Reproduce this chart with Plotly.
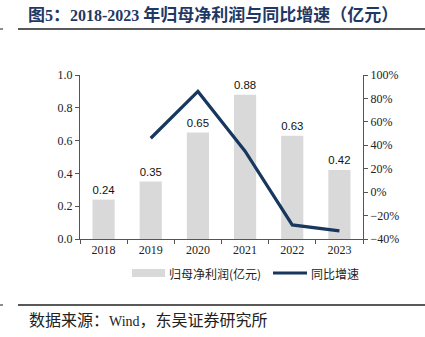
import plotly.graph_objects as go

# Net profit attributable to parent (100 million CNY) and YoY growth
years = ["2018", "2019", "2020", "2021", "2022", "2023"]
net_profit = [0.24, 0.35, 0.65, 0.88, 0.63, 0.42]
growth_years = ["2019", "2020", "2021", "2022", "2023"]
yoy_growth = [0.46, 0.86, 0.35, -0.28, -0.33]

W, H = 425, 337
ML, MR, MT, MB = 80, 62, 75, 98
PW, PH = W - ML - MR, H - MT - MB

BAR_COLOR = "#d9d9d9"
LINE_COLOR = "#17375e"
SERIF = "Liberation Serif, Noto Sans CJK SC"
CJK = "Noto Sans CJK SC, Liberation Serif"


def px(x):
    return (x - ML) / PW


def py(y):
    return (H - MB - y) / PH


fig = go.Figure()
fig.add_trace(go.Bar(
    x=years, y=net_profit, name="归母净利润(亿元)",
    marker=dict(color=BAR_COLOR, line=dict(width=0)),
    width=0.47,
    text=[f"{v:.2f}" for v in net_profit], textposition="outside",
    textfont=dict(family="Liberation Sans, Arial", size=13, color="#111"),
    cliponaxis=False, yaxis="y",
))
fig.add_trace(go.Scatter(
    x=growth_years, y=yoy_growth, name="同比增速", mode="lines",
    line=dict(color=LINE_COLOR, width=3.2), yaxis="y2",
))

axis_font = dict(family=SERIF, size=12, color="#222")
title_text = (
    "<b><span style='font-size:17px'>图</span>5<span style='font-size:17px'>：</span>"
    "2018-2023 "
    "<span style='font-size:17px'>年归母净利润与同比增速（亿元）</span></b>"
)
fig.update_layout(
    width=W, height=H, margin=dict(l=ML, r=MR, t=MT, b=MB),
    paper_bgcolor="white", plot_bgcolor="white", showlegend=False,
    title=dict(
        text=title_text,
        x=28 / W, xanchor="left", y=1 - 15 / H, yanchor="middle",
        font=dict(family=SERIF, size=16, color="#1f3864"),
    ),
    xaxis=dict(
        type="category", range=[-0.5, 5.5], showline=True, linecolor="#555",
        linewidth=1, ticks="outside", ticklen=4, tickcolor="#555",
        tickson="boundaries", tickfont=axis_font, showgrid=False,
    ),
    yaxis=dict(
        range=[0, 1.0], dtick=0.2, tickformat=".1f", showline=True,
        linecolor="#555", linewidth=1, ticks="outside", ticklen=4,
        tickcolor="#555", tickfont=axis_font, showgrid=False, zeroline=False,
    ),
    yaxis2=dict(
        range=[-0.4, 1.0], dtick=0.2, tickformat=".0%", overlaying="y",
        side="right", showline=True, linecolor="#555", linewidth=1,
        ticks="outside", ticklen=4, tickcolor="#555", tickfont=axis_font,
        showgrid=False, zeroline=False,
    ),
)

# Header and footer rules
for yy in (29, 305):
    fig.add_shape(type="line", xref="paper", yref="paper",
                  x0=px(18), x1=px(W), y0=py(yy), y1=py(yy),
                  line=dict(color="#222", width=1.6))
    fig.add_shape(type="line", xref="paper", yref="paper",
                  x0=px(0), x1=px(3), y0=py(yy), y1=py(yy),
                  line=dict(color="#444", width=1.2))

# Legend drawn beneath the plot
fig.add_shape(type="rect", xref="paper", yref="paper",
              x0=px(132), x1=px(165), y0=py(277), y1=py(269),
              fillcolor=BAR_COLOR, line=dict(width=0))
fig.add_shape(type="line", xref="paper", yref="paper",
              x0=px(273), x1=px(307), y0=py(273), y1=py(273),
              line=dict(color=LINE_COLOR, width=3.2))
fig.add_annotation(text="归母净利润(亿元)", xref="paper", yref="paper",
                   x=px(167), y=py(273), xanchor="left", yanchor="middle",
                   showarrow=False, font=dict(family=CJK, size=12, color="#222"))
fig.add_annotation(text="同比增速", xref="paper", yref="paper",
                   x=px(309), y=py(273), xanchor="left", yanchor="middle",
                   showarrow=False, font=dict(family=CJK, size=12, color="#222"))

# Source note
source_text = (
    "<span style='font-size:16px'>数据来源：</span>Wind"
    "<span style='font-size:16px'>，东吴证券研究所</span>"
)
fig.add_annotation(text=source_text, xref="paper", yref="paper",
                   x=px(27), y=py(320), xanchor="left", yanchor="middle",
                   showarrow=False, font=dict(family=SERIF, size=14, color="#222"))

fig.write_html("out.html")
